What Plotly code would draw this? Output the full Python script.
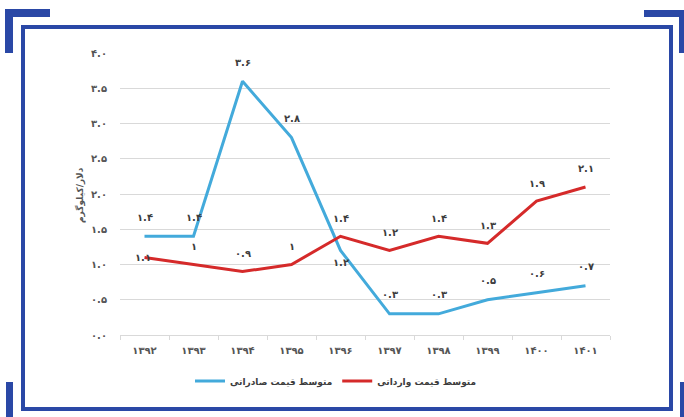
import plotly.graph_objects as go

# data
years = ["1392", "1393", "1394", "1395", "1396", "1397", "1398", "1399", "1400", "1401"]
export_price = [1.4, 1.4, 3.6, 2.8, 1.2, 0.3, 0.3, 0.5, 0.6, 0.7]
import_price = [1.1, 1.0, 0.9, 1.0, 1.4, 1.2, 1.4, 1.3, 1.9, 2.1]
y_ticks = [0.0, 0.5, 1.0, 1.5, 2.0, 2.5, 3.0, 3.5, 4.0]

export_name = "متوسط قیمت صادراتی"
import_name = "متوسط قیمت وارداتی"
y_title = "دلار/کیلوگرم"

FA = str.maketrans("0123456789", "۰۱۲۳۴۵۶۷۸۹")


def fa(s):
    return str(s).translate(FA)


W, H = 684, 417
L, R, T, B = 120, 74, 53, 82
FONT = "DejaVu Sans"
BLUE = "#43aadb"
RED = "#d52a2a"
FRAME = "#2a48a6"


def px_x(p):
    return (p - L) / (W - L - R)


def px_y(p):
    return (H - B - p) / (H - T - B)


fig = go.Figure()
fig.add_trace(go.Scatter(x=years, y=export_price, mode="lines", name=export_name,
                         line=dict(color=BLUE, width=3)))
fig.add_trace(go.Scatter(x=years, y=import_price, mode="lines", name=import_name,
                         line=dict(color=RED, width=3)))

# data labels (x given as category index)
label_font = dict(family=FONT, size=10, color="#3d3d3d", weight="bold")
for i, v in enumerate(export_price):
    shift = -12 if i == 4 else 19
    fig.add_annotation(x=i, y=v, text=fa(f"{v:g}"), showarrow=False,
                       yshift=shift, font=label_font)
for i, v in enumerate(import_price):
    shift = 0 if i == 0 else 18
    fig.add_annotation(x=i, y=v, text=fa(f"{v:g}"), showarrow=False,
                       yshift=shift, xshift=-2 if i == 0 else 0, font=label_font)

# y axis title
fig.add_annotation(xref="paper", yref="paper", x=px_x(72), y=px_y(195),
                   text=y_title, textangle=-90, showarrow=False,
                   font=dict(family=FONT, size=9, color="#555555", weight="bold"))

# decorative frame
shapes = [
    dict(type="rect", x0=px_x(23), x1=px_x(671), y0=px_y(27), y1=px_y(409),
         line=dict(color=FRAME, width=4)),
]
for x0, x1, y0, y1 in [(5, 50, 9, 17), (5, 13, 9, 53), (644, 684, 10, 17), (679, 684, 10, 53),
                       (6, 13, 382, 417), (680, 684, 382, 417)]:
    shapes.append(dict(type="rect", x0=px_x(x0), x1=px_x(x1), y0=px_y(y0), y1=px_y(y1),
                       fillcolor=FRAME, line=dict(width=0)))
for s in shapes:
    s.update(xref="paper", yref="paper", layer="above")

fig.update_layout(
    width=W, height=H,
    margin=dict(l=L, r=R, t=T, b=B),
    paper_bgcolor="white", plot_bgcolor="white",
    font=dict(family=FONT, color="#555555"),
    showlegend=True,
    legend=dict(orientation="h", x=px_x(336), xanchor="center", y=px_y(381), yanchor="middle",
                font=dict(family=FONT, size=9, color="#3d3d3d", weight="bold"),
                traceorder="normal", itemwidth=30),
    shapes=shapes,
)
fig.update_xaxes(type="category", tickvals=years, ticktext=[fa(y) for y in years],
                 range=[-0.5, len(years) - 0.5],
                 showgrid=False, showline=True, linecolor="#d9d9d9", linewidth=1,
                 ticks="outside", tickson="boundaries", ticklen=4, tickcolor="#d9d9d9",
                 ticklabelstandoff=6,
                 tickfont=dict(family=FONT, size=10, color="#555555", weight="bold"))
fig.update_yaxes(range=[0, 4.0], tickvals=y_ticks,
                 ticktext=[fa(f"{v:.1f}") for v in y_ticks],
                 showgrid=True, gridcolor="#d9d9d9", gridwidth=1, zeroline=False,
                 ticklabelstandoff=12,
                 tickfont=dict(family=FONT, size=10, color="#555555", weight="bold"))

# drop the default page margin so the figure sits at the window origin
fig.write_html("out.html", config={"displayModeBar": False},
               post_script="document.body.style.margin='0';")
